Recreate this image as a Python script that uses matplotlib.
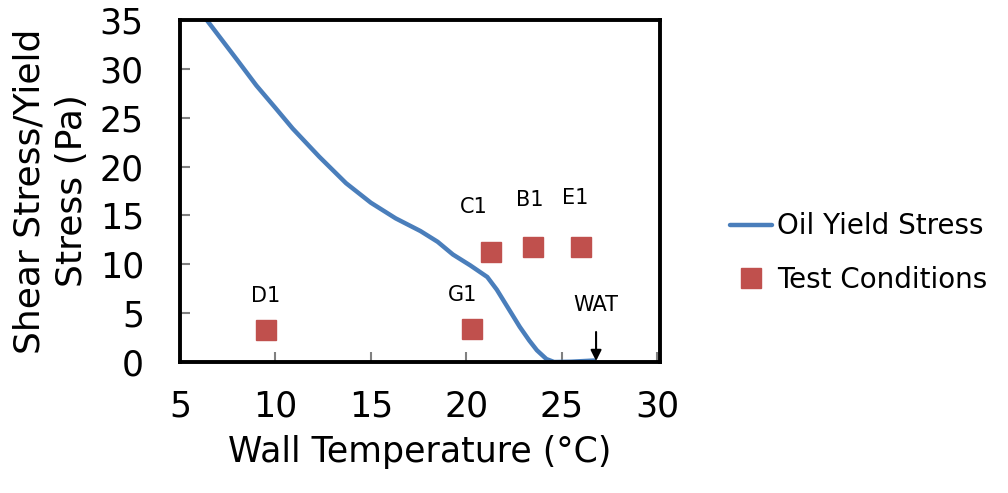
import matplotlib.pyplot as plt

# oil yield stress curve
curve_t = [6.4, 8.0, 9.0, 10.0, 10.9, 12.3, 13.7, 15.0, 16.3, 17.6, 18.5, 19.3, 20.2, 21.1, 21.6, 22.2, 22.8, 23.3, 23.7, 24.2, 24.6, 25.5, 26.7]
curve_s = [35.0, 30.9, 28.3, 26.0, 23.9, 21.0, 18.3, 16.3, 14.7, 13.4, 12.3, 11.0, 9.9, 8.7, 7.4, 5.5, 3.6, 2.2, 1.2, 0.3, 0.0, 0.03, 0.15]

# test conditions
test_names = ['D1', 'G1', 'C1', 'B1', 'E1']
test_t = [9.5, 20.3, 21.3, 23.5, 26.0]
test_s = [3.3, 3.4, 11.3, 11.8, 11.8]
label_dx = [0.0, -0.5, -0.9, -0.2, -0.3]
label_dy = [3.5, 3.5, 4.6, 4.8, 5.0]

wat_t = 26.8

blue = '#4a7ebb'
red = '#c0504d'

fig = plt.figure(figsize=(10.08, 4.93), dpi=100)
ax = fig.add_axes([180/1008, 131/493, 480/1008, 342/493])

ax.plot(curve_t, curve_s, color=blue, lw=3.2, solid_capstyle='round', solid_joinstyle='round',
        label='Oil Yield Stress')
ax.plot(test_t, test_s, 's', color=red, ms=14, mec=red, label='Test Conditions')

for name, t, s, dx, dy in zip(test_names, test_t, test_s, label_dx, label_dy):
    ax.text(t + dx, s + dy, name, fontsize=15, ha='center', va='center')

ax.annotate('WAT', xy=(wat_t, 0.1), xytext=(wat_t, 5.8), fontsize=15, ha='center', va='center',
            arrowprops=dict(arrowstyle='-|>', color='black', lw=1.5, shrinkA=10, shrinkB=0,
                            mutation_scale=16))

ax.set_xlim(5, 30.15)
ax.set_ylim(0, 35)
ax.set_xticks([5, 10, 15, 20, 25, 30])
ax.set_yticks([0, 5, 10, 15, 20, 25, 30, 35])
ax.tick_params(axis='both', labelsize=25, color='#808080', width=1.5, length=7, direction='in')
ax.tick_params(axis='x', pad=20)
ax.tick_params(axis='y', pad=26)
for sp in ax.spines.values():
    sp.set_linewidth(2.8)
    sp.set_color('black')

ax.set_xlabel('Wall Temperature (\u00b0C)', fontsize=25, labelpad=8)
ax.set_ylabel('Shear Stress/Yield\nStress (Pa)', fontsize=26, labelpad=8, linespacing=1.3)

fig.legend(loc='center left', bbox_to_anchor=(730/1008, 1 - 253/493), frameon=False, fontsize=20,
           handlelength=1.5, handletextpad=0.2, labelspacing=0.9, borderaxespad=0, borderpad=0)

fig.savefig('out.png', dpi=100)
